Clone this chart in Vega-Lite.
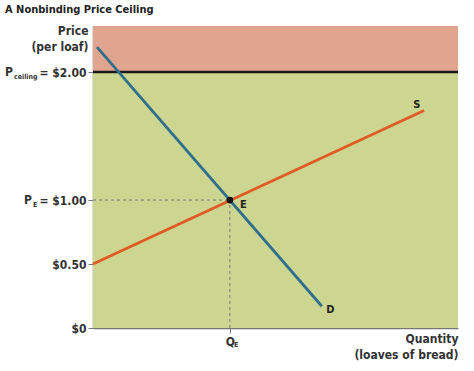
{
  "$schema": "https://vega.github.io/schema/vega-lite/v6.json",
  "width": 365,
  "height": 302,
  "autosize": {"type": "none"},
  "padding": {"left": 93, "top": 26, "right": 16, "bottom": 43},
  "background": "white",
  "config": {
    "view": {"stroke": null},
    "font": "DejaVu Sans Condensed, Roboto",
    "text": {"font": "DejaVu Sans Condensed, Roboto"},
    "axis": {"labelFont": "DejaVu Sans Condensed, Roboto", "titleFont": "DejaVu Sans Condensed, Roboto"}
  },
  "title": {
    "text": "A Nonbinding Price Ceiling",
    "anchor": "start",
    "frame": "group",
    "dx": -88,
    "offset": 9,
    "fontSize": 11,
    "fontWeight": "bold",
    "color": "#222222",
    "font": "DejaVu Sans Condensed, Roboto"
  },
  "datasets": {
    "zones": [
      {"zone": "below", "q0": 0, "q1": 10, "p0": 0, "p1": 2},
      {"zone": "above", "q0": 0, "q1": 10, "p0": 2, "p1": 2.36}
    ],
    "curves": [
      {"curve": "Demand", "q": 0.11, "p": 2.195},
      {"curve": "Demand", "q": 6.27, "p": 0.17},
      {"curve": "Supply", "q": 0, "p": 0.5},
      {"curve": "Supply", "q": 9.07, "p": 1.70}
    ],
    "equilibrium": [{"q": 3.75, "p": 1, "q0": 0, "p0": 0}],
    "ceiling": [{"q0": 0, "q1": 10, "p": 2}],
    "labels": [
      {"label": "S", "q": 8.87, "p": 1.74},
      {"label": "D", "q": 6.5, "p": 0.14},
      {"label": "E", "q": 4.12, "p": 0.96}
    ],
    "ylabels": [
      {"p": 1, "q": 0, "main": "P", "sub": "E"},
      {"p": 2, "q": 0, "main": "P", "sub": "ceiling"}
    ]
  },
  "resolve": {"scale": {"fill": "independent", "stroke": "independent"}},
  "layer": [
    {
      "data": {"name": "zones"},
      "mark": {"type": "rect"},
      "encoding": {
        "x": {"field": "q0", "type": "quantitative", "scale": {"domain": [0, 10], "nice": false, "zero": false},
          "axis": {"values": [3.75], "labelExpr": "'Q'", "title": ["Quantity", "(loaves of bread)"], "titleAlign": "right", "titleAnchor": "end", "titleX": 365, "titleY": 14, "titleBaseline": "alphabetic", "titleFontSize": 12, "titleFontWeight": "bold", "titleColor": "#333333", "titleLineHeight": 16, "labelFontSize": 12, "labelFontWeight": "bold", "labelColor": "#333333", "labelPadding": 3, "domainColor": "#777777", "domainWidth": 1.5, "tickColor": "#777777", "tickSize": 5, "tickWidth": 1, "grid": false}},
        "x2": {"field": "q1"},
        "y": {"field": "p0", "type": "quantitative", "scale": {"domain": [0, 2.36], "nice": false, "zero": false},
          "axis": {"values": [0, 0.5, 1, 2], "labelExpr": "datum.value == 0 ? '$0' : datum.value == 0.5 ? '$0.50' : datum.value == 1 ? '= $1.00' : '= $2.00'", "title": ["Price", "(per loaf)"], "titleAngle": 0, "titleAlign": "right", "titleX": -5, "titleY": 8, "titleBaseline": "alphabetic", "titleFontSize": 12, "titleFontWeight": "bold", "titleColor": "#333333", "titleLineHeight": 16, "labelFontSize": 12, "labelFontWeight": "bold", "labelColor": "#333333", "labelPadding": 2, "domainColor": "#777777", "domainWidth": 1.5, "tickColor": "#777777", "tickSize": 5, "tickWidth": 1, "grid": false}},
        "y2": {"field": "p1"},
        "fill": {"field": "zone", "type": "nominal", "scale": {"domain": ["below", "above"], "range": ["#cdd690", "#dfa58e"]}, "legend": null}
      }
    },
    {
      "data": {"name": "ceiling"},
      "mark": {"type": "rule", "color": "#1a1a1a", "strokeWidth": 2.5},
      "encoding": {
        "x": {"field": "q0", "type": "quantitative"},
        "x2": {"field": "q1"},
        "y": {"field": "p", "type": "quantitative"}
      }
    },
    {
      "data": {"name": "equilibrium"},
      "mark": {"type": "rule", "color": "#777777", "strokeWidth": 1, "strokeDash": [3, 3]},
      "encoding": {
        "x": {"field": "q0", "type": "quantitative"},
        "x2": {"field": "q"},
        "y": {"field": "p", "type": "quantitative"}
      }
    },
    {
      "data": {"name": "equilibrium"},
      "mark": {"type": "rule", "color": "#777777", "strokeWidth": 1, "strokeDash": [3, 3]},
      "encoding": {
        "x": {"field": "q", "type": "quantitative"},
        "y": {"field": "p0", "type": "quantitative"},
        "y2": {"field": "p"}
      }
    },
    {
      "data": {"name": "curves"},
      "mark": {"type": "line", "strokeWidth": 2.8},
      "encoding": {
        "x": {"field": "q", "type": "quantitative"},
        "y": {"field": "p", "type": "quantitative"},
        "stroke": {"field": "curve", "type": "nominal", "scale": {"domain": ["Demand", "Supply"], "range": ["#2f6f8c", "#e05a26"]}, "legend": null}
      }
    },
    {
      "data": {"name": "equilibrium"},
      "mark": {"type": "point", "filled": true, "color": "#111111", "size": 45, "opacity": 1},
      "encoding": {
        "x": {"field": "q", "type": "quantitative"},
        "y": {"field": "p", "type": "quantitative"}
      }
    },
    {
      "data": {"name": "labels"},
      "mark": {"type": "text", "fontSize": 11, "fontWeight": "bold", "color": "#222222", "align": "center", "baseline": "middle"},
      "encoding": {
        "x": {"field": "q", "type": "quantitative"},
        "y": {"field": "p", "type": "quantitative"},
        "text": {"field": "label", "type": "nominal"}
      }
    },
    {
      "data": {"name": "equilibrium"},
      "mark": {"type": "text", "fontSize": 7, "fontWeight": "bold", "color": "#333333", "align": "left", "baseline": "alphabetic", "dx": 4, "dy": 19},
      "encoding": {
        "x": {"field": "q", "type": "quantitative"},
        "y": {"field": "p0", "type": "quantitative"},
        "text": {"value": "E"}
      }
    },
    {
      "data": {"name": "ylabels"},
      "transform": [{"filter": "datum.p == 1"}],
      "mark": {"type": "text", "fontSize": 12, "fontWeight": "bold", "color": "#333333", "align": "right", "baseline": "alphabetic", "dx": -61, "dy": 4},
      "encoding": {
        "x": {"field": "q", "type": "quantitative"},
        "y": {"field": "p", "type": "quantitative"},
        "text": {"field": "main", "type": "nominal"}
      }
    },
    {
      "data": {"name": "ylabels"},
      "transform": [{"filter": "datum.p == 1"}],
      "mark": {"type": "text", "fontSize": 7, "fontWeight": "bold", "color": "#333333", "align": "left", "baseline": "alphabetic", "dx": -60, "dy": 7},
      "encoding": {
        "x": {"field": "q", "type": "quantitative"},
        "y": {"field": "p", "type": "quantitative"},
        "text": {"field": "sub", "type": "nominal"}
      }
    },
    {
      "data": {"name": "ylabels"},
      "transform": [{"filter": "datum.p == 2"}],
      "mark": {"type": "text", "fontSize": 12, "fontWeight": "bold", "color": "#333333", "align": "right", "baseline": "alphabetic", "dx": -80, "dy": 4},
      "encoding": {
        "x": {"field": "q", "type": "quantitative"},
        "y": {"field": "p", "type": "quantitative"},
        "text": {"field": "main", "type": "nominal"}
      }
    },
    {
      "data": {"name": "ylabels"},
      "transform": [{"filter": "datum.p == 2"}],
      "mark": {"type": "text", "fontSize": 7, "fontWeight": "bold", "color": "#333333", "align": "left", "baseline": "alphabetic", "dx": -79, "dy": 7},
      "encoding": {
        "x": {"field": "q", "type": "quantitative"},
        "y": {"field": "p", "type": "quantitative"},
        "text": {"field": "sub", "type": "nominal"}
      }
    }
  ]
}
